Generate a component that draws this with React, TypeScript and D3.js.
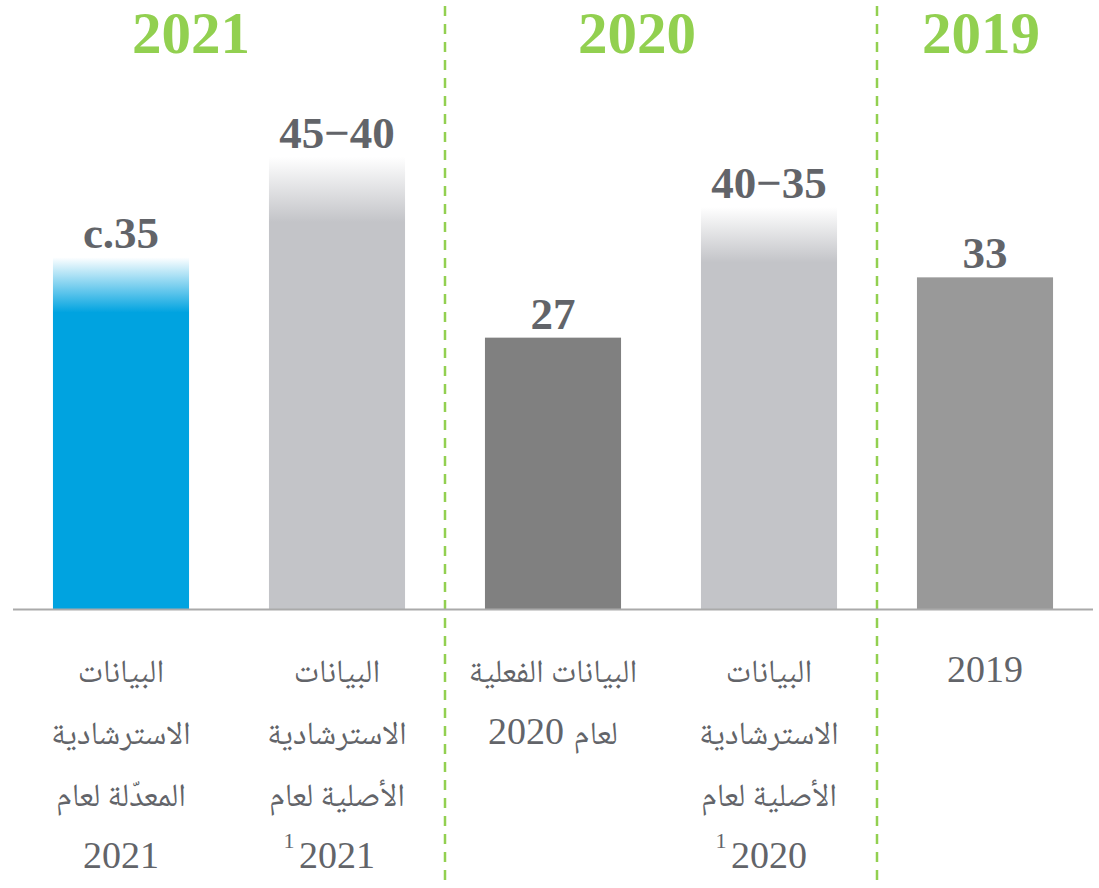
import React from "react";
import * as d3 from "d3";

const categories = ["adj2021", "orig2021", "act2020", "orig2020", "y2019"];
const values = [35, 45, 27, 40, 33];
const fadeTo: (number | null)[] = [29.5, 38.5, null, 34.5, null];
const valueLabels = ["c.35", "45−40", "27", "40−35", "33"];
const barColors = ["#00a3e0", "#c3c4c8", "#808080", "#c3c4c8", "#999999"];
const categoryLines: string[][] = [
  ["البيانات", "الاسترشادية", "المعدّلة لعام", "2021"],
  ["البيانات", "الاسترشادية", "الأصلية لعام", "2021"],
  ["البيانات الفعلية", "لعام 2020"],
  ["البيانات", "الاسترشادية", "الأصلية لعام", "2020"],
  ["2019"],
];
const footnotes = ["", "1", "", "1", ""];
const groupYears = ["2021", "2020", "2019"];
const groupMembers = [
  ["adj2021", "orig2021"],
  ["act2020", "orig2020"],
  ["y2019"],
];

const W = 1099;
const H = 888;
const GREEN = "#92d050";
const TEXT = "#626469";
const SERIF = "'Liberation Serif', 'Times New Roman', 'DejaVu Serif', serif";
const ARABIC = "'Noto Naskh Arabic', 'Noto Sans Arabic', 'DejaVu Sans', sans-serif";
const headerShift = [-38, -24, -4];

function runs(s: string) {
  return s.match(/[\u0600-\u06FF]+(?:\s+[\u0600-\u06FF]+)*|[^\u0600-\u06FF]+/g) || [s];
}

export default function App() {
  const x = d3
    .scaleBand<string>()
    .domain(categories)
    .range([13, 1093])
    .paddingInner(0.37)
    .paddingOuter(0.185);
  const y = d3.scaleLinear().domain([0, 50]).range([609, 106.5]);
  const bw = x.bandwidth();

  const groupCenters = groupMembers.map((m) => {
    const a = x(m[0])!;
    const b = x(m[m.length - 1])! + bw;
    return (a + b) / 2;
  });
  const dividers = groupMembers.slice(0, -1).map((m, i) => {
    const right = x(m[m.length - 1])! + bw;
    const left = x(groupMembers[i + 1][0])!;
    return (right + left) / 2;
  });

  return (
    <svg
      width={W}
      height={H}
      style={{ position: "absolute", left: 0, top: 0, background: "#fff" }}
    >
      <defs>
        {categories.map((c, i) =>
          fadeTo[i] != null ? (
            <linearGradient
              key={c}
              id={`g${i}`}
              gradientUnits="userSpaceOnUse"
              x1={0}
              x2={0}
              y1={y(values[i])}
              y2={y(fadeTo[i] as number)}
            >
              <stop offset="0" stopColor="#ffffff" />
              <stop offset="1" stopColor={barColors[i]} />
            </linearGradient>
          ) : null
        )}
      </defs>

      {dividers.map((dx, i) => (
        <line
          key={i}
          x1={dx}
          x2={dx}
          y1={0}
          y2={H}
          stroke={GREEN}
          strokeWidth={2.5}
          strokeDasharray="10 8"
          strokeDashoffset={-6}
        />
      ))}

      {groupYears.map((g, i) => (
        <text
          key={g}
          x={groupCenters[i] + headerShift[i]}
          y={53}
          textAnchor="middle"
          fontFamily={SERIF}
          fontWeight="bold"
          fontSize={59}
          fill={GREEN}
        >
          {g}
        </text>
      ))}

      {categories.map((c, i) => (
        <rect
          key={c}
          x={x(c)}
          y={y(values[i])}
          width={bw}
          height={y(0) - y(values[i])}
          fill={fadeTo[i] != null ? `url(#g${i})` : barColors[i]}
        />
      ))}

      <line x1={13} x2={1093} y1={609.5} y2={609.5} stroke="#aaaaaa" strokeWidth={2} />

      {categories.map((c, i) => (
        <text
          key={c}
          x={x(c)! + bw / 2}
          y={y(values[i]) - 9}
          textAnchor="middle"
          fontFamily={SERIF}
          fontWeight="bold"
          fontSize={45}
          fill={TEXT}
        >
          {valueLabels[i]}
        </text>
      ))}

      {categories.map((c, i) => {
        const cx = x(c)! + bw / 2;
        const lines = categoryLines[i];
        return (
          <g key={c}>
            {lines.map((ln, j) => (
              <text
                key={j}
                x={cx}
                y={682 + j * 62}
                textAnchor="middle"
                direction="rtl"
                fontFamily={SERIF}
                fontSize={38}
                fill={TEXT}
              >
                {runs(ln).map((r, k) =>
                  /[\u0600-\u06FF]/.test(r) ? (
                    <tspan key={k} fontFamily={ARABIC} fontSize={32.5}>
                      {r}
                    </tspan>
                  ) : (
                    <tspan key={k}>{r}</tspan>
                  )
                )}
              </text>
            ))}
            {footnotes[i] ? (
              <text
                x={cx - 48}
                y={682 + (lines.length - 1) * 62 - 20}
                textAnchor="middle"
                fontFamily={SERIF}
                fontSize={22}
                fill={TEXT}
              >
                {footnotes[i]}
              </text>
            ) : null}
          </g>
        );
      })}
    </svg>
  );
}
